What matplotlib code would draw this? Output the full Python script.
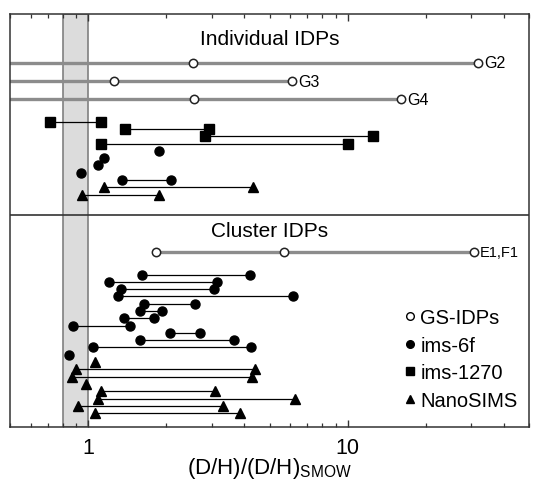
import numpy as np
import matplotlib
matplotlib.use('Agg')
import matplotlib.pyplot as plt
from matplotlib.lines import Line2D
from matplotlib.ticker import NullFormatter

plt.rcParams['font.family'] = ['Liberation Sans', 'DejaVu Sans']
plt.rcParams['mathtext.fontset'] = 'custom'
plt.rcParams['mathtext.rm'] = 'Liberation Sans'

nan = np.nan

# Individual IDPs: GS-IDP lines (lower bound runs off the axis)
gs_ind_labels = ['G2', 'G3', 'G4']
gs_ind_lo = [2.54, 1.26, 2.56]
gs_ind_hi = [31.9, 6.13, 16.1]

# Individual IDPs: other instruments, one row each (nan = single value)
ind_inst = ['ims-1270'] * 4 + ['ims-6f'] * 5 + ['NanoSIMS'] * 2
ind_lo = [0.71, 1.39, 2.81, 1.12, 1.87, 1.15, 1.09, 0.94, 1.35, 1.15, 0.95]
ind_hi = [1.12, 2.92, 12.5, 10.0, nan, nan, nan, nan, 2.09, 4.3, 1.88]

# Cluster IDPs: GS-IDP
gs_cl_label = 'E1,F1'
gs_cl_vals = [1.83, 5.71, 30.7]

# Cluster IDPs: other instruments
cl_inst = ['ims-6f'] * 12 + ['NanoSIMS'] * 8
cl_lo = [1.61, 1.20, 1.34, 1.30, 1.64, 1.58, 1.37, 0.878, 2.07, 1.58, 1.04, 0.843,
         1.06, 0.90, 0.868, 0.98, 1.12, 1.09, 0.915, 1.06]
cl_hi = [4.19, 3.14, 3.05, 6.16, 2.59, 1.93, 1.80, 1.45, 2.70, 3.64, 4.26, nan,
         nan, 4.40, 4.27, nan, 3.07, 6.25, 3.30, 3.85]

markers = {'ims-6f': 'o', 'ims-1270': 's', 'NanoSIMS': '^'}
xmin, xmax = 0.5, 50

fig = plt.figure(figsize=(5.36, 4.85), dpi=100)
ax = fig.add_axes([0.0187, 0.1175, 0.9683, 0.8515])

ax.axvspan(0.8, 1.0, facecolor='#dcdcdc', edgecolor='#808080', lw=1.2, zorder=0)


def draw_rows(inst, lo, hi, y0):
    for i, (name, a, b) in enumerate(zip(inst, lo, hi)):
        y = y0 + i
        xs = [a] if np.isnan(b) else [a, b]
        if len(xs) == 2:
            ax.plot(xs, [y, y], color='k', lw=0.9, zorder=2)
        ax.plot(xs, [y] * len(xs), ls='none', marker=markers[name],
                ms=6.5, color='k', zorder=3)


def gs_circles(xs, y):
    ax.plot(xs, [y] * len(xs), ls='none', marker='o', ms=6, mfc='white',
            mec='#222222', mew=1.1, zorder=4)


# top panel
for i, (lab, a, b) in enumerate(zip(gs_ind_labels, gs_ind_lo, gs_ind_hi)):
    y = 6.7 + 2.5 * i
    ax.plot([xmin, b], [y, y], color='#8c8c8c', lw=2.4, zorder=2)
    gs_circles([a, b], y)
    ax.annotate(lab, (b, y), xytext=(4, 0), textcoords='offset points',
                va='center', fontsize=11.5)
draw_rows(ind_inst, ind_lo, ind_hi, 14.75)

# bottom panel
y = 32.6
ax.plot([gs_cl_vals[0], gs_cl_vals[-1]], [y, y], color='#8c8c8c', lw=2.4, zorder=2)
gs_circles(gs_cl_vals, y)
ax.annotate(gs_cl_label, (gs_cl_vals[-1], y), xytext=(4, 0),
            textcoords='offset points', va='center', fontsize=10.5)
draw_rows(cl_inst, cl_lo, cl_hi, 35.7)

ax.axhline(27.5, color='#333333', lw=1.2, zorder=5)
tr = ax.get_yaxis_transform()
ax.text(0.5, 3.42, 'Individual IDPs', transform=tr, ha='center', va='center', fontsize=15)
ax.text(0.5, 29.7, 'Cluster IDPs', transform=tr, ha='center', va='center', fontsize=15)

handles = [
    Line2D([], [], ls='none', marker='o', ms=5.5, mfc='white', mec='k', mew=1),
    Line2D([], [], ls='none', marker='o', ms=5.5, color='k'),
    Line2D([], [], ls='none', marker='s', ms=5.5, color='k'),
    Line2D([], [], ls='none', marker='^', ms=5.5, color='k'),
]
ax.legend(handles, ['GS-IDPs', 'ims-6f', 'ims-1270', 'NanoSIMS'], loc='center left',
          bbox_to_anchor=(0.7617, 0.1646), frameon=False, fontsize=14.5,
          handlelength=0.45, handletextpad=0.3, labelspacing=0.42,
          borderaxespad=0, borderpad=0)

ax.set_xscale('log')
ax.set_xlim(xmin, xmax)
ax.set_ylim(56.6, 0)
ax.set_xticks([1, 10])
ax.set_xticklabels(['1', '10'])
ax.xaxis.set_minor_formatter(NullFormatter())
ax.set_yticks([])
ax.tick_params(axis='x', which='both', direction='in', top=True, labelsize=15.5,
               pad=7, color='#333333')
ax.tick_params(axis='x', which='major', length=5, width=1)
ax.tick_params(axis='x', which='minor', length=3, width=0.9)
for s in ax.spines.values():
    s.set_color('#333333')
    s.set_linewidth(1.1)
ax.set_xlabel(r'(D/H)/(D/H)$_{\mathrm{SMOW}}$', fontsize=16, labelpad=-2)

fig.savefig('out.png', dpi=100)
